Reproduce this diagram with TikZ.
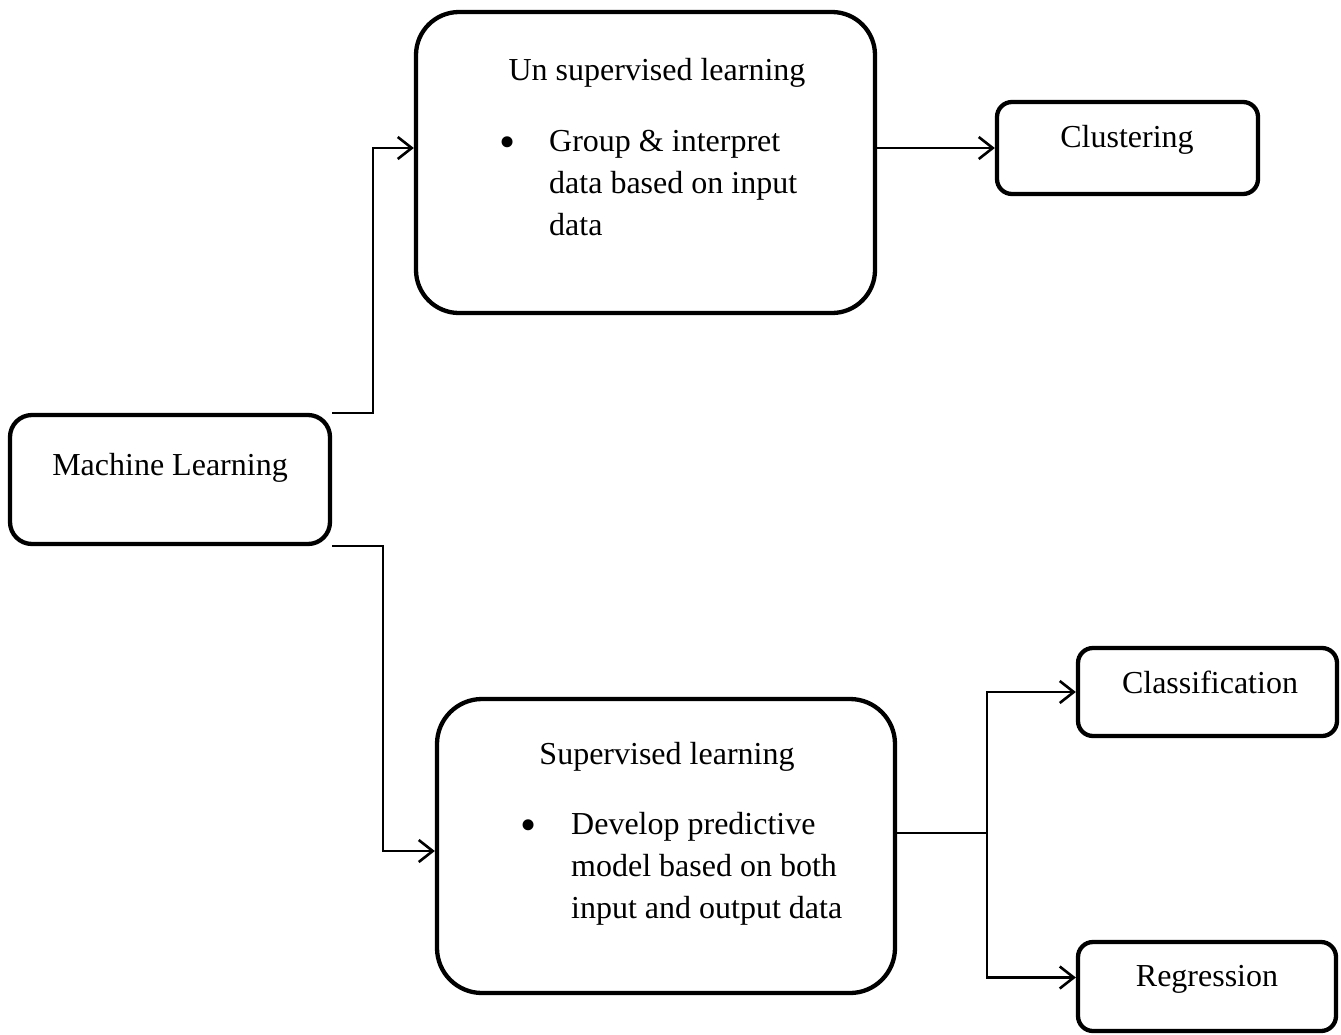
\documentclass[tikz,border=0pt]{standalone}
\usepackage{fontspec}
\setmainfont{Liberation Serif}
\usetikzlibrary{arrows.meta}

\tikzset{
  box/.style={draw=black, line width=4.3pt, rectangle, fill=white, inner sep=0pt},
  txt/.style={inner sep=0pt, font=\fontsize{32}{42}\selectfont},
  dot/.style={inner sep=0pt, font=\fontsize{46}{46}\selectfont},
  conn/.style={draw=black, line width=2.6pt},
  arr/.style={conn, -{Straight Barb[length=14pt,width=22pt]}}
}

\begin{document}
\begin{tikzpicture}[x=1pt,y=-1pt]
  \useasboundingbox (0,0) rectangle (1341,1034);

  % boxes
  \node[box, rounded corners=22pt, minimum width=320pt, minimum height=129pt] (ml) at (170,479.5) {};
  \node[box, rounded corners=43pt, minimum width=459pt, minimum height=301pt] (unsup) at (645.5,162.5) {};
  \node[box, rounded corners=15pt, minimum width=261pt, minimum height=92pt] (clust) at (1127.5,148) {};
  \node[box, rounded corners=45pt, minimum width=458pt, minimum height=294pt] (sup) at (666,846) {};
  \node[box, rounded corners=15pt, minimum width=259pt, minimum height=88pt] (class) at (1207.5,692) {};
  \node[box, rounded corners=15pt, minimum width=258pt, minimum height=89pt] (reg) at (1207,986.5) {};

  % labels
  \node[txt, anchor=base] (mlt) at (170,475) {Machine Learning};

  \node[txt, anchor=base] (unsupt) at (657,80) {Un supervised learning};
  \node[dot] (unsupb) at (508,147) {•};
  \node[txt, anchor=base west] (unsupa) at (549,151) {Group \& interpret};
  \node[txt, anchor=base west] (unsupc) at (549,193) {data based on input};
  \node[txt, anchor=base west] (unsupd) at (549,235) {data};

  \node[txt, anchor=base] (clustt) at (1127,147) {Clustering};

  \node[txt, anchor=base] (supt) at (667,764) {Supervised learning};
  \node[dot] (supb) at (529,830) {•};
  \node[txt, anchor=base west] (supa) at (571,834) {Develop predictive};
  \node[txt, anchor=base west] (supc) at (571,876) {model based on both};
  \node[txt, anchor=base west] (supd) at (571,918) {input and output data};

  \node[txt, anchor=base] (classt) at (1210,693) {Classification};
  \node[txt, anchor=base] (regt) at (1207,986) {Regression};

  % bend and branch points
  \coordinate (upbend) at ([xshift=41pt]ml.north east);
  \coordinate (lowbend) at ([xshift=51pt]ml.south east);
  \coordinate (fork) at (987,833);

  % connectors
  \draw[arr] (ml.north east) -- (upbend) |- (unsup.west |- clust.west);
  \draw[arr] (ml.south east) -- (lowbend) |- ([yshift=-5pt]sup.west);
  \draw[arr] (unsup.east |- clust.west) -- (clust.west);
  \draw[conn] (sup.east |- fork) -- (fork);
  \draw[arr] (fork) |- (class.west);
  \draw[arr] (fork) |- ([yshift=9pt]reg.west);
\end{tikzpicture}
\end{document}
